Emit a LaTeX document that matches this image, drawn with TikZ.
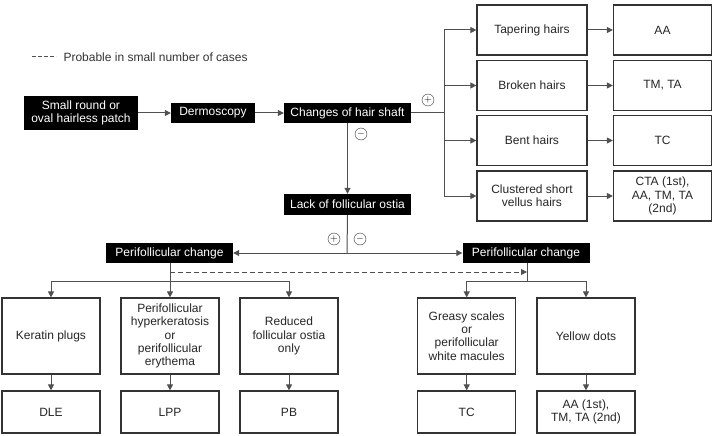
\documentclass[tikz,border=0pt]{standalone}
\usepackage{fontspec}
\setmainfont{Liberation Sans}
\usetikzlibrary{arrows.meta, positioning}
\definecolor{linegray}{HTML}{505050}
\definecolor{boxgray}{HTML}{333333}

\begin{document}
\begin{tikzpicture}[x=1pt, y=-1pt, >={Triangle[length=6pt, width=6pt]},
  font=\fontsize{12}{13.3}\selectfont,
  blackbox/.style={fill=black, text=white, inner sep=0pt, minimum height=20pt, align=center},
  whitebox/.style={draw=boxgray, line width=1.2pt, fill=white, inner sep=0pt, align=center, text=black!85},
  sign/.style={draw=black!80, circle, inner sep=0pt, minimum size=12pt, font=\fontsize{10}{10}\selectfont},
  conn/.style={draw=linegray, line width=1pt}]
  \useasboundingbox (0,0) rectangle (716,436);

  % Legenda
  \coordinate (lg1) at (32,57);
  \coordinate (lg2) at (56,57);
  \draw[conn, dashed, dash pattern=on 3.5pt off 2.5pt] (lg1) -- (lg2);
  \node[anchor=west, text=black!80] (legend) at (60,57) {Probable in small number of cases};

  % Horni rada
  \node[blackbox, minimum width=114pt, minimum height=34pt] (patch) at (81,113) {Small round or\\oval hairless patch};
  \node[blackbox, minimum width=84pt] (dermo) at (213,113) {Dermoscopy};
  \node[blackbox, minimum width=127pt] (shaft) at (347.5,113) {Changes of hair shaft};
  \node[blackbox, minimum width=127pt, minimum height=21pt] (lack) at (347.5,204.5) {Lack of follicular ostia};

  \draw[conn, ->] (patch) -- (dermo);
  \draw[conn, ->] (dermo) -- (shaft);
  \draw[conn, ->] (shaft.south) -- (lack.north);
  \node[sign] (plusA) at (428,100) {$+$};
  \node[sign] (minusA) at (361,134) {$-$};

  % Zmeny vlasu
  \coordinate (fork) at (444,113);
  \foreach \name/\txt/\dx/\yy in {taper/Tapering hairs/AA/30, broken/Broken hairs/{TM, TA}/85.5, bent/Bent hairs/TC/140.5, vellus/{Clustered short\\vellus hairs}/{CTA (1st),\\AA, TM, TA\\(2nd)}/196} {
    \node[whitebox, minimum width=110pt, minimum height=50pt] (\name) at (532,\yy) {\txt};
    \node[whitebox, minimum width=98pt, minimum height=50pt] (\name dx) at (662.5,\yy) {\dx};
    \draw[conn, ->] (\name dx.west -| fork) -- (\name.west);
    \draw[conn, ->] (\name) -- (\name dx);
  }
  \draw[conn] (shaft.east) -- (fork);
  \draw[conn] (taper.west -| fork) -- (vellus.west -| fork);

  % Perifolikularni zmeny
  \node[blackbox, minimum width=127pt] (periL) at (169.5,253) {Perifollicular change};
  \node[blackbox, minimum width=127pt] (periR) at (526,253) {Perifollicular change};
  \coordinate (split) at (347,253);
  \draw[conn] (lack.south) -- (split);
  \draw[conn, ->] (split) -- (periL.east);
  \draw[conn, ->] (split) -- (periR.west);
  \node[sign] (plusB) at (334,239) {$+$};
  \node[sign] (minusB) at (360,239) {$-$};

  % Levy strom
  \node[whitebox, minimum width=98pt, minimum height=76pt] (keratin) at (51,336) {Keratin plugs};
  \node[whitebox, minimum width=98pt, minimum height=76pt] (hyper) at (170,336) {Perifollicular\\hyperkeratosis\\or\\perifollicular\\erythema};
  \node[whitebox, minimum width=98pt, minimum height=76pt] (reduced) at (289,336) {Reduced\\follicular ostia\\only};
  \node[whitebox, minimum width=98pt, minimum height=42pt] (dle) at (51,412) {DLE};
  \node[whitebox, minimum width=98pt, minimum height=42pt] (lpp) at (170,412) {LPP};
  \node[whitebox, minimum width=98pt, minimum height=42pt] (pb) at (289,412) {PB};

  \coordinate (barL) at (170,281);
  \draw[conn] (periL.south -| barL) -- (barL);
  \draw[conn, ->] (barL) -| (keratin.north);
  \draw[conn, ->] (barL) -- (hyper.north);
  \draw[conn, ->] (barL) -| (reduced.north);
  \draw[conn, ->] (keratin) -- (dle);
  \draw[conn, ->] (hyper) -- (lpp);
  \draw[conn, ->] (reduced) -- (pb);

  % Pravy strom
  \node[whitebox, minimum width=98pt, minimum height=76pt] (greasy) at (466.7,336) {Greasy scales\\or\\perifollicular\\white macules};
  \node[whitebox, minimum width=98pt, minimum height=76pt] (yellow) at (586,336) {Yellow dots};
  \node[whitebox, minimum width=98pt, minimum height=42pt] (tc) at (466.7,412) {TC};
  \node[whitebox, minimum width=98pt, minimum height=42pt] (aa) at (586,412) {AA (1st),\\TM, TA (2nd)};

  \coordinate (barR) at (527,281);
  \draw[conn] (periR.south -| barR) -- (barR);
  \draw[conn, ->] (barR) -| (greasy.north);
  \draw[conn, ->] (barR) -| (yellow.north);
  \draw[conn, ->] (greasy) -- (tc);
  \draw[conn, ->] (yellow) -- (aa);

  % Carkovana sipka
  \coordinate (dashL) at (170,272);
  \coordinate (dashR) at (527,272);
  \draw[conn, dashed, dash pattern=on 5pt off 3pt, ->] (dashL) -- (dashR);
\end{tikzpicture}
\end{document}
